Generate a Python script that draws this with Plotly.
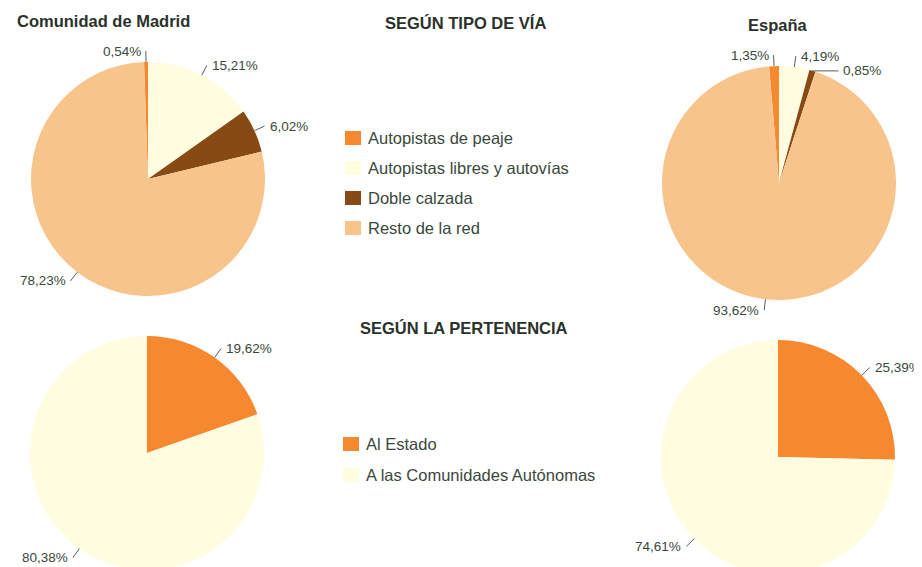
import math
import plotly.graph_objects as go

W, H = 922, 567
OFF = 8  # page body margin of the html page (screen px = figure px + 8)

# ---- data ----
via_labels = ["Autopistas de peaje", "Autopistas libres y autovías", "Doble calzada", "Resto de la red"]
via_madrid = [0.54, 15.21, 6.02, 78.23]
via_espana = [1.35, 4.19, 0.85, 93.62]

pert_labels = ["Al Estado", "A las Comunidades Autónomas"]
pert_madrid = [19.62, 80.38]
pert_espana = [25.39, 74.61]

via_colors = ["#F6882F", "#FFFCE0", "#874A14", "#F7C58C"]
pert_colors = ["#F6882F", "#FFFCE0"]

TXT = "#3a483c"
TTL = "#2a322b"
FONT = "Liberation Sans, Arial, sans-serif"
LBL_SIZE = 13.5


def fx(sx):
    return (sx - OFF) / W


def fy(sy):
    return 1 - (sy - OFF) / H


def fmt(v):
    return f"{v:.2f}".replace(".", ",") + "%"


def text_w(s, size):
    em = {",": 0.278, "%": 0.889}
    return sum(em.get(c, 0.556) for c in s) * size


fig = go.Figure()
shapes, annos = [], []


def add_pie(labels, values, colors, cx, cy, r, rotation):
    fig.add_trace(go.Pie(
        labels=labels, values=values, textinfo="none", sort=False,
        direction="clockwise", rotation=rotation,
        marker=dict(colors=colors, line=dict(width=0)),
        domain=dict(x=[fx(cx - r), fx(cx + r)], y=[fy(cy + r), fy(cy - r)]),
        showlegend=False, hoverinfo="skip",
    ))
    # percentage labels with short leader ticks at each slice's mid angle
    total = sum(values)
    cum = 0.0
    boxes = []
    for v in values:
        theta = math.radians(rotation + (cum + v / 2) / total * 360)
        cum += v
        s, c = math.sin(theta), math.cos(theta)
        px_, py_ = cx + r * s, cy - r * c
        qx, qy = cx + (r + 11) * s, cy - (r + 11) * c
        txt = fmt(v)
        w = text_w(txt, LBL_SIZE)
        right = s >= 0

        def box(qx, qy):
            x0 = qx + 3 if right else qx - 3 - w
            return (x0, qy - 8, x0 + w, qy + 8)

        b = box(qx, qy)
        if any(b[0] < o[2] and o[0] < b[2] and b[1] < o[3] and o[1] < b[3] for o in boxes):
            qx, qy = px_ + (26 if right else -26), py_
            b = box(qx, qy)
        boxes.append(b)
        shapes.append(dict(type="line", xref="paper", yref="paper",
                           x0=fx(px_), y0=fy(py_), x1=fx(qx), y1=fy(qy),
                           line=dict(color="#55605a", width=1)))
        annos.append(dict(text=txt, x=fx(qx + 3 if right else qx - 3), y=fy(qy),
                          xref="paper", yref="paper",
                          xanchor="left" if right else "right", yanchor="middle",
                          showarrow=False,
                          font=dict(size=LBL_SIZE, color=TXT, family=FONT)))


add_pie(via_labels, via_madrid, via_colors, 148, 179, 117, -via_madrid[0] * 3.6)
add_pie(via_labels, via_espana, via_colors, 779, 183, 117, -via_espana[0] * 3.6)
add_pie(pert_labels, pert_madrid, pert_colors, 147, 453, 117, 0)
add_pie(pert_labels, pert_espana, pert_colors, 778, 457, 117, 0)

# titles
for txt, x, y, anchor in [
    ("Comunidad de Madrid", 15, 21, "left"),
    ("SEGÚN TIPO DE VÍA", 465, 23, "center"),
    ("España", 778, 25, "center"),
    ("SEGÚN LA PERTENENCIA", 464, 328, "center"),
]:
    annos.append(dict(text=f"<b>{txt}</b>", x=fx(x), y=fy(y), xref="paper", yref="paper",
                      xanchor=anchor, yanchor="middle", showarrow=False,
                      font=dict(size=16.5, color=TTL, family=FONT)))


# legends
def legend(labels, colors, sx, tx, y0, dy):
    for i, (lab, col) in enumerate(zip(labels, colors)):
        yc = y0 + i * dy
        shapes.append(dict(type="rect", xref="paper", yref="paper",
                           x0=fx(sx), x1=fx(sx + 16), y0=fy(yc + 7), y1=fy(yc - 7),
                           fillcolor=col, line=dict(width=0)))
        annos.append(dict(text=lab, x=fx(tx), y=fy(yc), xref="paper", yref="paper",
                          xanchor="left", yanchor="middle", showarrow=False,
                          font=dict(size=16.5, color=TXT, family=FONT)))


legend(via_labels, via_colors, 345, 366, 138, 30)
legend(pert_labels, pert_colors, 343, 364, 444, 31)

fig.update_layout(
    width=W, height=H, margin=dict(l=0, r=0, t=0, b=0),
    paper_bgcolor="white", plot_bgcolor="white",
    shapes=shapes, annotations=annos,
    font=dict(family=FONT),
)

fig.write_html("out.html")
